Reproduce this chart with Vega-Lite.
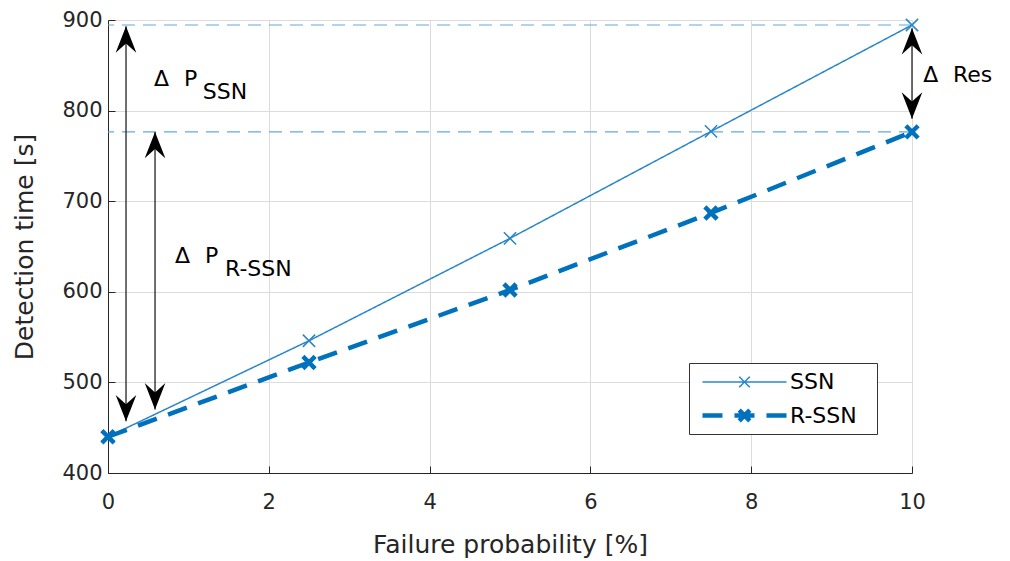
{
  "$schema": "https://vega.github.io/schema/vega-lite/v6.json",
  "width": 804,
  "height": 453,
  "autosize": {"type": "none"},
  "padding": {"left": 108, "top": 20, "right": 98, "bottom": 88},
  "background": "white",
  "config": {
    "font": "DejaVu Sans",
    "view": {"stroke": null},
    "axis": {
      "grid": true,
      "gridColor": "#dcdcdc",
      "gridWidth": 1,
      "domainColor": "#262626",
      "domainWidth": 1,
      "tickColor": "#262626",
      "tickSize": -7,
      "labelFlush": false,
      "labelFontSize": 21,
      "labelColor": "#262626",
      "titleFontSize": 25,
      "titleFontWeight": "normal",
      "titleColor": "#262626"
    }
  },
  "datasets": {
    "series": [
      {"p": 0, "t": 440, "s": "SSN"},
      {"p": 2.5, "t": 546, "s": "SSN"},
      {"p": 5, "t": 659, "s": "SSN"},
      {"p": 7.5, "t": 777, "s": "SSN"},
      {"p": 10, "t": 894.5, "s": "SSN"},
      {"p": 0, "t": 440, "s": "R-SSN"},
      {"p": 2.5, "t": 522, "s": "R-SSN"},
      {"p": 5, "t": 602, "s": "R-SSN"},
      {"p": 7.5, "t": 687, "s": "R-SSN"},
      {"p": 10, "t": 776.5, "s": "R-SSN"}
    ],
    "refs": [{"t": 894.5}, {"t": 776.5}],
    "shafts": [
      {"p": 0.224, "t": 457, "t2": 893},
      {"p": 0.585, "t": 470, "t2": 776.5},
      {"p": 10, "t": 791, "t2": 891}
    ],
    "heads": [
      {"p": 0.224, "t": 893, "dir": "up"},
      {"p": 0.224, "t": 457, "dir": "down"},
      {"p": 0.585, "t": 776.5, "dir": "up"},
      {"p": 0.585, "t": 470, "dir": "down"},
      {"p": 10, "t": 891, "dir": "up"},
      {"p": 10, "t": 791, "dir": "down"}
    ],
    "labels": [
      {"p": 0.572, "t": 827.5, "txt": "Δ"},
      {"p": 0.945, "t": 827.5, "txt": "P"},
      {"p": 1.178, "t": 812.8, "txt": "SSN"},
      {"p": 0.833, "t": 631.8, "txt": "Δ"},
      {"p": 1.206, "t": 631.8, "txt": "P"},
      {"p": 1.455, "t": 617, "txt": "R-SSN"},
      {"p": 10.14, "t": 832, "txt": "Δ"},
      {"p": 10.51, "t": 832, "txt": "Res"}
    ]
  },
  "encoding": {
    "x": {
      "field": "p",
      "type": "quantitative",
      "scale": {"domain": [0, 10], "nice": false},
      "axis": {"values": [0, 2, 4, 6, 8, 10], "title": "Failure probability [%]", "labelPadding": 25, "titlePadding": 20}
    },
    "y": {
      "field": "t",
      "type": "quantitative",
      "scale": {"domain": [400, 900], "nice": false, "zero": false},
      "axis": {"values": [400, 500, 600, 700, 800, 900], "title": "Detection time [s]", "labelPadding": 13, "titlePadding": 24}
    }
  },
  "layer": [
    {
      "data": {"name": "refs"},
      "mark": {"type": "rule", "color": "#62aadf", "strokeWidth": 1.2, "strokeDash": [13, 8]},
      "encoding": {"x": null}
    },
    {
      "data": {"name": "series"},
      "mark": {"type": "line"},
      "encoding": {
        "color": {
          "field": "s", "type": "nominal",
          "scale": {"domain": ["SSN", "R-SSN"], "range": ["#2a86cb", "#0072bd"]},
          "legend": {
            "title": null,
            "orient": "none",
            "legendX": 581,
            "legendY": 343,
            "symbolType": "M-3,0L3,0M-0.38,-0.38L0.38,0.38M0.38,-0.38L-0.38,0.38",
            "symbolSize": 784,
            "symbolOffset": 35,
            "labelOffset": 29,
            "labelFontSize": 22,
            "labelColor": "#000000",
            "labelExpr": "datum.label + '\u2800'",
            "padding": 4,
            "rowPadding": 6,
            "strokeColor": "#333333",
            "fillColor": "white"
          }
        },
        "strokeDash": {
          "field": "s", "type": "nominal",
          "scale": {"domain": ["SSN", "R-SSN"], "range": [[1, 0], [20, 12]]}
        },
        "strokeWidth": {
          "field": "s", "type": "nominal",
          "scale": {"domain": ["SSN", "R-SSN"], "range": [1.5, 4.5]}
        }
      }
    },
    {
      "data": {"name": "series"},
      "mark": {"type": "point", "shape": "M-1,-1L1,1M1,-1L-1,1", "filled": false, "size": 150, "opacity": 1},
      "encoding": {
        "color": {"field": "s", "type": "nominal"},
        "strokeWidth": {"field": "s", "type": "nominal"}
      }
    },
    {
      "data": {"name": "shafts"},
      "mark": {"type": "rule", "color": "#222222", "strokeWidth": 1.3},
      "encoding": {"y2": {"field": "t2"}}
    },
    {
      "data": {"name": "heads"},
      "mark": {"type": "point", "filled": true, "color": "#000000", "size": 700, "opacity": 1},
      "encoding": {
        "shape": {
          "field": "dir", "type": "nominal",
          "scale": {"domain": ["up", "down"], "range": ["M0,0L0.78,2L0,1.3L-0.78,2Z", "M0,0L0.78,-2L0,-1.3L-0.78,-2Z"]},
          "legend": null
        }
      }
    },
    {
      "data": {"name": "labels"},
      "mark": {"type": "text", "align": "left", "baseline": "alphabetic", "fontSize": 22, "color": "#000000"},
      "encoding": {"text": {"field": "txt"}}
    }
  ]
}
